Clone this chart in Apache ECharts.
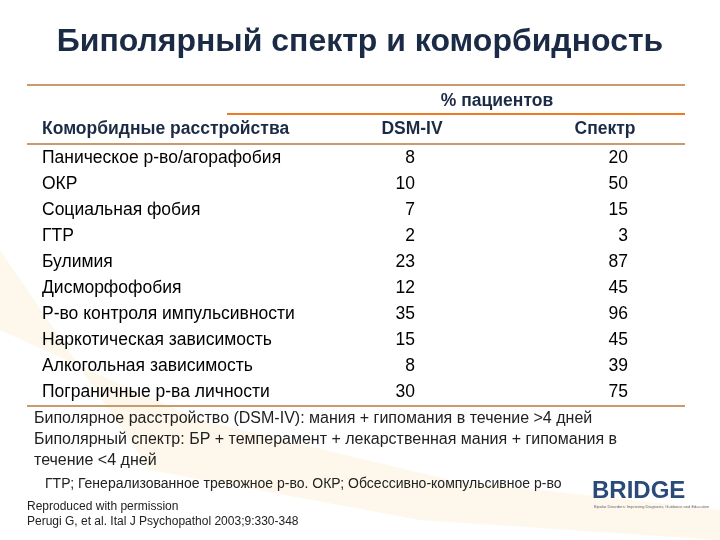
<!DOCTYPE html>
<html><head><meta charset="utf-8">
<script src="https://cdn.jsdelivr.net/npm/echarts@6/dist/echarts.min.js"></script>
<style>html,body{margin:0;padding:0;background:#fff}#c{width:720px;height:540px}</style>
</head><body><div id="c"></div>
<script>
const categories = ['Паническое р-во/агорафобия','ОКР','Социальная фобия','ГТР','Булимия','Дисморфофобия','Р-во контроля импульсивности','Наркотическая зависимость','Алкогольная зависимость','Пограничные р-ва личности'];
const dsmIV = [8,10,7,2,23,12,35,15,8,30];
const spectrum = [20,50,15,3,87,45,96,45,39,75];

const F = '"Liberation Sans", Arial, sans-serif';
const txtColor = '#000';
function pts(x, arr){ return arr.map((v,i)=>({value:[x,i], v:v})); }
const lbl = (align)=>({show:true,position:'inside',align:align,verticalAlign:'middle',fontFamily:F,fontSize:17.5,color:txtColor,opacity:1,formatter:p=>String(p.data.v)});

const chart = echarts.init(document.getElementById('c'));
chart.setOption({
  animation:false,
  grid:{left:0,right:0,top:145,height:260},
  xAxis:{type:'value',min:0,max:720,show:false},
  yAxis:{type:'category',data:categories,inverse:true,show:false},
  series:[
    {type:'scatter',symbolSize:0,itemStyle:{opacity:1},data:categories.map((c,i)=>({value:[42,i],v:c})),label:lbl('left')},
    {type:'scatter',symbolSize:0,itemStyle:{opacity:1},data:pts(415,dsmIV),label:lbl('right')},
    {type:'scatter',symbolSize:0,itemStyle:{opacity:1},data:pts(628,spectrum),label:lbl('right')}
  ],
  graphic:[
    {type:'polygon',silent:true,z:-10,shape:{points:[[0,250],[0,330],[200,420],[450,480],[720,510],[720,540],[420,520],[150,470]]},style:{fill:'rgba(250,200,120,0.15)'}},
    {type:'text',left:'center',top:26,style:{text:'Биполярный спектр и коморбидность',font:'bold 32px '+F,fill:'#1c2b45'}},
    {type:'line',shape:{x1:27,y1:85,x2:685,y2:85},style:{stroke:'#c99a6e',lineWidth:2}},
    {type:'text',x:497,y:92,style:{text:'% пациентов',font:'bold 17.5px '+F,fill:'#1c2b45',textAlign:'center'}},
    {type:'line',shape:{x1:227,y1:114,x2:685,y2:114},style:{stroke:'#f07a22',lineWidth:2}},
    {type:'text',x:42,y:120,style:{text:'Коморбидные расстройства',font:'bold 17.5px '+F,fill:'#1c2b45'}},
    {type:'text',x:412,y:120,style:{text:'DSM-IV',font:'bold 17.5px '+F,fill:'#1c2b45',textAlign:'center'}},
    {type:'text',x:605,y:120,style:{text:'Спектр',font:'bold 17.5px '+F,fill:'#1c2b45',textAlign:'center'}},
    {type:'line',shape:{x1:27,y1:144,x2:685,y2:144},style:{stroke:'#c99a6e',lineWidth:2}},
    {type:'line',shape:{x1:27,y1:406,x2:685,y2:406},style:{stroke:'#c99a6e',lineWidth:2}},
    {type:'text',x:34,y:408,style:{text:'Биполярное расстройство (DSM-IV): мания + гипомания в течение >4 дней\nБиполярный спектр: БР + темперамент + лекарственная мания + гипомания в\nтечение <4 дней',font:'16px '+F,fill:'#222',lineHeight:21}},
    {type:'text',x:45,y:477,style:{text:'ГТР; Генерализованное тревожное р-во. ОКР; Обсессивно-компульсивное р-во',font:'14px '+F,fill:'#222'}},
    {type:'text',x:27,y:499,style:{text:'Reproduced with permission\nPerugi G, et al. Ital J Psychopathol 2003;9:330-348',font:'12px '+F,fill:'#222',lineHeight:15}},
    {type:'text',x:592,y:479,style:{text:'BRIDGE',font:'bold 24px '+F,fill:'#2a4a78'}},
    {type:'text',x:594,y:505,style:{text:'Bipolar Disorders: Improving Diagnosis, Guidance and Education',font:'4px '+F,fill:'#667'}}
  ]
});
</script></body></html>
